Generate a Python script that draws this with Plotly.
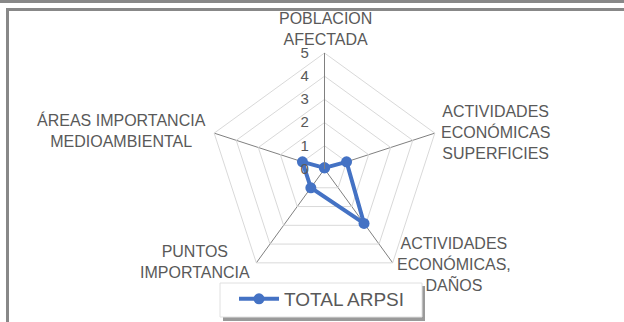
import plotly.graph_objects as go

# categories and values of the radar chart
categorias = ["POBLACION<br>AFECTADA",
              "ACTIVIDADES<br>ECONÓMICAS<br>SUPERFICIES",
              "ACTIVIDADES<br>ECONÓMICAS,<br>DAÑOS",
              "PUNTOS<br>IMPORTANCIA",
              "ÁREAS IMPORTANCIA<br>MEDIOAMBIENTAL"]
total_arpsi = [0.05, 1.0, 2.9, 1.0, 1.0]
radial_ticks = [0, 1, 2, 3, 4, 5]

W, H = 624, 322
cx, cy, R = 324.5, 169, 116

# where the category names sit (pixels from top-left)
label_pos = [(325, 29.5), (495.5, 132), (454, 264), (195, 262), (121.5, 131)]

fig = go.Figure()
fig.add_trace(go.Scatterpolar(
    r=total_arpsi + total_arpsi[:1],
    theta=categorias + categorias[:1],
    mode="lines+markers",
    name="TOTAL ARPSI",
    line=dict(color="#4472C4", width=4),
    marker=dict(color="#4472C4", size=11),
))

fig.update_layout(
    width=W, height=H,
    margin=dict(l=0, r=0, t=0, b=0),
    paper_bgcolor="white",
    font=dict(family="Liberation Sans, Arial, sans-serif", size=14, color="#595959"),
    showlegend=True,
    polar=dict(
        domain=dict(x=[(cx - R) / W, (cx + R) / W],
                    y=[(H - cy - R) / H, (H - cy + R) / H]),
        gridshape="linear",
        bgcolor="white",
        radialaxis=dict(range=[0, 5], tickvals=radial_ticks, angle=90,
                        showline=True, linecolor="#808080", linewidth=1,
                        gridcolor="#d9d9d9", gridwidth=1, tickangle=90,
                        ticks="outside", ticklen=10, tickcolor="rgba(0,0,0,0)",
                        tickfont=dict(size=15, color="#595959"),
                        side="counterclockwise"),
        angularaxis=dict(rotation=90, direction="clockwise",
                         showline=True, linecolor="#d9d9d9", linewidth=1,
                         gridcolor="#808080", gridwidth=1, ticks="",
                         showticklabels=False),
    ),
    legend=dict(orientation="h", x=234 / W, xanchor="left",
                y=(H - 299) / H, yanchor="middle", itemwidth=40,
                bgcolor="rgba(0,0,0,0)", borderwidth=0,
                font=dict(size=19, color="#595959")),
)

for txt, (lx, ly) in zip(categorias, label_pos):
    fig.add_annotation(text=txt, xref="paper", yref="paper",
                       x=lx / W, y=1 - ly / H, xanchor="center", yanchor="middle",
                       showarrow=False, font=dict(size=16, color="#595959"))

# chart frame and legend box
px_x = lambda v: v / W
px_y = lambda v: 1 - v / H
grey = "#888888"
fig.add_shape(type="rect", xref="paper", yref="paper", x0=0, x1=1,
              y0=px_y(3), y1=1, fillcolor=grey, line_width=0)
fig.add_shape(type="rect", xref="paper", yref="paper", x0=px_x(6), x1=1,
              y0=px_y(11), y1=px_y(8), fillcolor=grey, line_width=0)
fig.add_shape(type="rect", xref="paper", yref="paper", x0=px_x(6), x1=px_x(9),
              y0=0, y1=px_y(8), fillcolor=grey, line_width=0)
fig.add_shape(type="rect", xref="paper", yref="paper", x0=px_x(223), x1=px_x(425),
              y0=px_y(321), y1=px_y(286), fillcolor="#9a9a9a", line_width=0)
fig.add_shape(type="rect", xref="paper", yref="paper", x0=px_x(220), x1=px_x(422),
              y0=px_y(317), y1=px_y(283), fillcolor="white",
              line=dict(color="#e0e0e0", width=1))

fig.write_html("out.html", config={"displayModeBar": False},
               post_script="document.body.style.margin='0';")
